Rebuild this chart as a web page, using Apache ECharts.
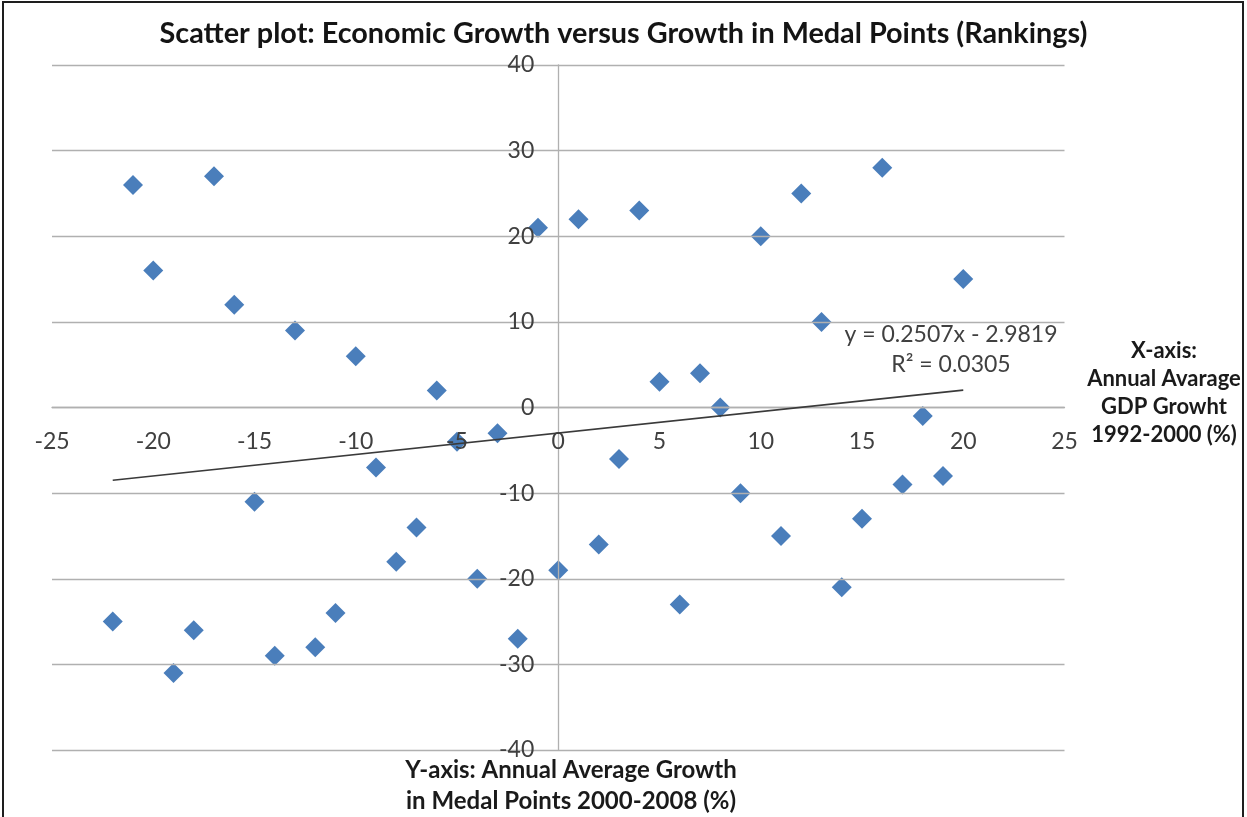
<!DOCTYPE html>
<html>
<head>
<meta charset="utf-8">
<script src="https://cdn.jsdelivr.net/npm/echarts@6/dist/echarts.min.js"></script>
<style>
html,body{margin:0;padding:0;background:#fff;}
#c{width:1247px;height:817px;}
</style>
</head>
<body>
<div id="c"></div>
<script>
// Data
const gdpGrowth = [-22,-21,-20,-19,-18,-17,-16,-15,-14,-13,-12,-11,-10,-9,-8,-7,-6,-5,-4,-3,-2,-1,0,1,2,3,4,5,6,7,8,9,10,11,12,13,14,15,16,17,18,19,20];
const medalGrowth = [-25,26,16,-31,-26,27,12,-11,-29,9,-28,-24,6,-7,-18,-14,2,-4,-20,-3,-27,21,-19,22,-16,-6,23,3,-23,4,0,-10,20,-15,25,10,-21,-13,28,-9,-1,-8,15];
const trendSlope = 0.2507;
const trendIntercept = -2.9819;
const trendRSquared = 0.0305;
const trendRange = [-22, 20];
const xTicks = {min: -25, max: 25, interval: 5};
const yTicks = {min: -40, max: 40, interval: 10};

const titleText = 'Scatter plot: Economic Growth versus Growth in Medal Points (Rankings)';
const xAxisTitle = 'X-axis:\nAnnual Avarage\nGDP Growht\n1992-2000 (%)';
const yAxisTitle = 'Y-axis: Annual Average Growth\nin Medal Points 2000-2008 (%)';
const eqText = 'y = ' + trendSlope.toFixed(4) + 'x - ' + Math.abs(trendIntercept).toFixed(4) + '\nR\u00B2 = ' + trendRSquared.toFixed(4);

const points = gdpGrowth.map((x, i) => [x, medalGrowth[i]]);
const trendPoints = trendRange.map(x => [x, trendSlope * x + trendIntercept]);

const FONT = 'Lato, "Open Sans", "DejaVu Sans", sans-serif';
const GRID = {left: 52, top: 65, width: 1012.5, height: 685};
// axes cross at zero: shift the axes from the grid edges to the zero position
const xAxisShift = GRID.height * (0 - yTicks.min) / (yTicks.max - yTicks.min);
const yAxisShift = GRID.width * (0 - xTicks.min) / (xTicks.max - xTicks.min);

const chart = echarts.init(document.getElementById('c'), null, {renderer: 'canvas'});

chart.setOption({
  backgroundColor: '#ffffff',
  animation: false,
  title: {
    text: titleText,
    left: 'center',
    top: 13,
    textStyle: {fontFamily: FONT, fontSize: 28.8, fontWeight: 'bold', color: '#141414', lineHeight: 32}
  },
  grid: {left: GRID.left, top: GRID.top, width: GRID.width, height: GRID.height, containLabel: false, outerBoundsMode: 'none'},
  xAxis: {
    type: 'value',
    position: 'bottom',
    offset: -xAxisShift,
    min: xTicks.min, max: xTicks.max, interval: xTicks.interval,
    z: 3,
    axisLine: {show: true, onZero: false, lineStyle: {color: '#b0b0b0', width: 1.3}},
    axisTick: {show: false},
    splitLine: {show: false},
    axisLabel: {show: true, margin: 23, fontFamily: FONT, fontSize: 23, color: '#404040', showMinLabel: true, showMaxLabel: true}
  },
  yAxis: {
    type: 'value',
    position: 'left',
    offset: -yAxisShift,
    min: yTicks.min, max: yTicks.max, interval: yTicks.interval,
    z: 3,
    axisLine: {show: true, onZero: false, lineStyle: {color: '#b0b0b0', width: 1.3}},
    axisTick: {show: false},
    splitLine: {show: true, lineStyle: {color: '#b0b0b0', width: 1.3}},
    axisLabel: {show: true, margin: 24, fontFamily: FONT, fontSize: 23, color: '#404040', showMinLabel: true, showMaxLabel: true}
  },
  series: [
    {
      type: 'scatter',
      data: points,
      symbol: 'diamond',
      symbolSize: 20,
      itemStyle: {color: '#4a7ebb', opacity: 1},
      z: 2
    },
    {
      type: 'line',
      data: trendPoints,
      showSymbol: false,
      symbol: 'none',
      lineStyle: {color: '#3a3a3a', width: 1.6},
      z: 4,
      silent: true
    }
  ],
  graphic: [
    {
      type: 'rect', silent: true, z: 100,
      shape: {x: 3, y: 2, width: 1240, height: 840},
      style: {fill: 'none', stroke: '#1e1e1e', lineWidth: 2}
    },
    {
      type: 'text', silent: true, z: 50,
      style: {
        text: eqText, x: 951, y: 350, align: 'center', verticalAlign: 'middle',
        fontFamily: FONT, fontSize: 23, lineHeight: 30, fill: '#404040'
      }
    },
    {
      type: 'text', silent: true, z: 50,
      style: {
        text: xAxisTitle, x: 1164, y: 393, align: 'center', verticalAlign: 'middle',
        fontFamily: FONT, fontSize: 22, fontWeight: 'bold', lineHeight: 28, fill: '#1a1a1a'
      }
    },
    {
      type: 'text', silent: true, z: 50,
      style: {
        text: yAxisTitle, x: 571, y: 786, align: 'center', verticalAlign: 'middle',
        fontFamily: FONT, fontSize: 24, fontWeight: 'bold', lineHeight: 31, fill: '#1a1a1a'
      }
    }
  ]
});
</script>
</body>
</html>
